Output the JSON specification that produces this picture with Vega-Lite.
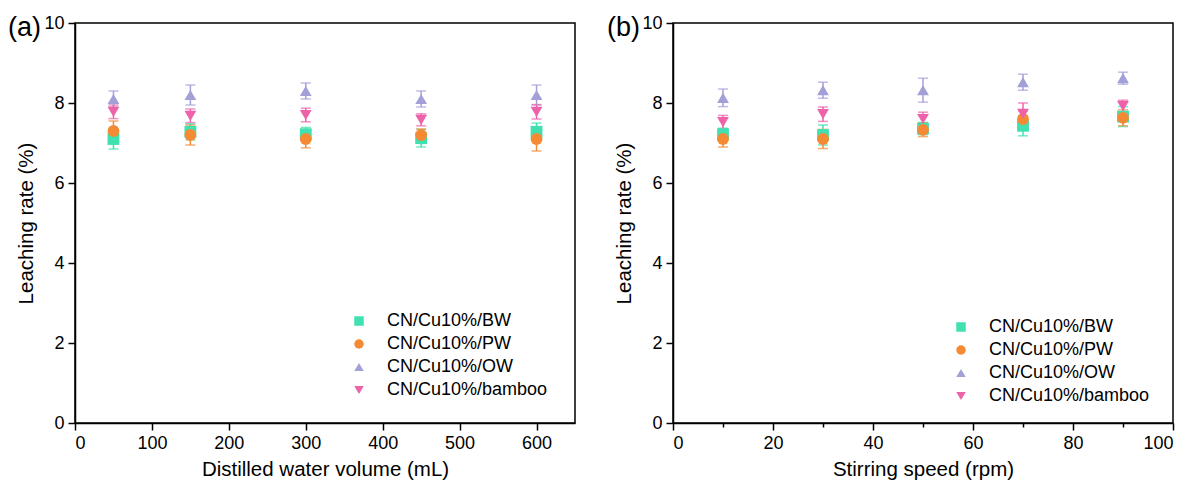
{
  "$schema": "https://vega.github.io/schema/vega-lite/v6.json",
  "background": "white",
  "padding": {"left": 7, "top": 13, "right": 20, "bottom": 5},
  "spacing": 98,
  "bounds": "flush",
  "config": {
    "font": "Liberation Sans",
    "view": {"stroke": "black", "strokeWidth": 1.5},
    "axis": {
      "grid": false,
      "domainColor": "black",
      "domainWidth": 1.5,
      "tickColor": "black",
      "tickWidth": 1.5,
      "labelFont": "Liberation Sans",
      "labelFontSize": 18,
      "labelColor": "black",
      "labelPadding": 4,
      "titleFont": "Liberation Sans",
      "titleFontSize": 20.5,
      "titleFontWeight": "normal",
      "titleColor": "black",
      "titlePadding": 7
    },
    "legend": {
      "labelFont": "Liberation Sans",
      "labelFontSize": 18,
      "labelColor": "black",
      "labelLimit": 400,
      "symbolSize": 90,
      "symbolOpacity": 1,
      "labelOffset": 19,
      "rowPadding": 5,
      "symbolStrokeWidth": 0
    },
    "title": {"font": "Liberation Sans", "fontSize": 27, "fontWeight": "normal", "color": "black"}
  },
  "datasets": {
    "leach": [
      {"panel": "a", "x": 50, "series": "CN/Cu10%/BW", "y": 7.1, "err": 0.25},
      {"panel": "a", "x": 50, "series": "CN/Cu10%/PW", "y": 7.3, "err": 0.25},
      {"panel": "a", "x": 50, "series": "CN/Cu10%/OW", "y": 8.1, "err": 0.2},
      {"panel": "a", "x": 50, "series": "CN/Cu10%/bamboo", "y": 7.78, "err": 0.17},
      {"panel": "a", "x": 150, "series": "CN/Cu10%/BW", "y": 7.28, "err": 0.2},
      {"panel": "a", "x": 150, "series": "CN/Cu10%/PW", "y": 7.2, "err": 0.25},
      {"panel": "a", "x": 150, "series": "CN/Cu10%/OW", "y": 8.2, "err": 0.25},
      {"panel": "a", "x": 150, "series": "CN/Cu10%/bamboo", "y": 7.68, "err": 0.17},
      {"panel": "a", "x": 300, "series": "CN/Cu10%/BW", "y": 7.22, "err": 0.17},
      {"panel": "a", "x": 300, "series": "CN/Cu10%/PW", "y": 7.1, "err": 0.22},
      {"panel": "a", "x": 300, "series": "CN/Cu10%/OW", "y": 8.3, "err": 0.2},
      {"panel": "a", "x": 300, "series": "CN/Cu10%/bamboo", "y": 7.7, "err": 0.17},
      {"panel": "a", "x": 450, "series": "CN/Cu10%/BW", "y": 7.12, "err": 0.22},
      {"panel": "a", "x": 450, "series": "CN/Cu10%/PW", "y": 7.2, "err": 0.15},
      {"panel": "a", "x": 450, "series": "CN/Cu10%/OW", "y": 8.1, "err": 0.2},
      {"panel": "a", "x": 450, "series": "CN/Cu10%/bamboo", "y": 7.58, "err": 0.15},
      {"panel": "a", "x": 600, "series": "CN/Cu10%/BW", "y": 7.28, "err": 0.22},
      {"panel": "a", "x": 600, "series": "CN/Cu10%/PW", "y": 7.1, "err": 0.3},
      {"panel": "a", "x": 600, "series": "CN/Cu10%/OW", "y": 8.2, "err": 0.25},
      {"panel": "a", "x": 600, "series": "CN/Cu10%/bamboo", "y": 7.78, "err": 0.18},
      {"panel": "b", "x": 10, "series": "CN/Cu10%/BW", "y": 7.22, "err": 0.15},
      {"panel": "b", "x": 10, "series": "CN/Cu10%/PW", "y": 7.1, "err": 0.2},
      {"panel": "b", "x": 10, "series": "CN/Cu10%/OW", "y": 8.13, "err": 0.22},
      {"panel": "b", "x": 10, "series": "CN/Cu10%/bamboo", "y": 7.52, "err": 0.17},
      {"panel": "b", "x": 30, "series": "CN/Cu10%/BW", "y": 7.2, "err": 0.25},
      {"panel": "b", "x": 30, "series": "CN/Cu10%/PW", "y": 7.1, "err": 0.24},
      {"panel": "b", "x": 30, "series": "CN/Cu10%/OW", "y": 8.32, "err": 0.2},
      {"panel": "b", "x": 30, "series": "CN/Cu10%/bamboo", "y": 7.72, "err": 0.18},
      {"panel": "b", "x": 50, "series": "CN/Cu10%/BW", "y": 7.36, "err": 0.15},
      {"panel": "b", "x": 50, "series": "CN/Cu10%/PW", "y": 7.33, "err": 0.17},
      {"panel": "b", "x": 50, "series": "CN/Cu10%/OW", "y": 8.32, "err": 0.3},
      {"panel": "b", "x": 50, "series": "CN/Cu10%/bamboo", "y": 7.6, "err": 0.17},
      {"panel": "b", "x": 70, "series": "CN/Cu10%/BW", "y": 7.43, "err": 0.25},
      {"panel": "b", "x": 70, "series": "CN/Cu10%/PW", "y": 7.6, "err": 0.2},
      {"panel": "b", "x": 70, "series": "CN/Cu10%/OW", "y": 8.52, "err": 0.2},
      {"panel": "b", "x": 70, "series": "CN/Cu10%/bamboo", "y": 7.73, "err": 0.27},
      {"panel": "b", "x": 90, "series": "CN/Cu10%/BW", "y": 7.66, "err": 0.25},
      {"panel": "b", "x": 90, "series": "CN/Cu10%/PW", "y": 7.63, "err": 0.2},
      {"panel": "b", "x": 90, "series": "CN/Cu10%/OW", "y": 8.62, "err": 0.15},
      {"panel": "b", "x": 90, "series": "CN/Cu10%/bamboo", "y": 7.92, "err": 0.15}
    ]
  },
  "resolve": {"scale": {"x": "independent"}, "legend": {"color": "independent", "shape": "independent"}},
  "hconcat": [
    {
      "width": 500,
      "height": 400,
      "title": {"text": "(a)", "anchor": "start", "frame": "group", "orient": "top", "offset": 0, "baseline": "alphabetic", "dx": -67, "dy": 49},
      "data": {"name": "leach"},
      "transform": [{"filter": "datum.panel === 'a'"}],
      "layer": [
        {
          "mark": {"type": "errorbar", "ticks": {"size": 10, "thickness": 1.5}, "thickness": 1.5},
          "encoding": {
            "x": {"field": "x", "type": "quantitative", "title": "Distilled water volume (mL)"},
            "y": {"field": "y", "type": "quantitative", "title": "Leaching rate (%)"},
            "yError": {"field": "err"},
            "color": {"field": "series", "type": "nominal", "title": null,
              "scale": {"domain": ["CN/Cu10%/BW", "CN/Cu10%/PW", "CN/Cu10%/OW", "CN/Cu10%/bamboo"], "range": ["#40E0B0", "#F58A35", "#A3A0D8", "#EE62AA"]},
              "legend": {"orient": "none", "legendX": 275, "legendY": 289}}
          }
        },
        {
          "mark": {"type": "point", "filled": true, "opacity": 1, "size": 140},
          "encoding": {
            "x": {"field": "x", "type": "quantitative",
              "scale": {"domain": [0, 650], "nice": false},
              "axis": {"title": "Distilled water volume (mL)", "values": [0, 50, 100, 150, 200, 250, 300, 350, 400, 450, 500, 550, 600, 650],
                "labelExpr": "datum.value % 100 === 0 ? datum.label : ''",
                "tickSize": {"condition": {"test": "datum.value % 100 === 0", "value": 7}, "value": 4}}},
            "y": {"field": "y", "type": "quantitative",
              "scale": {"domain": [0, 10], "nice": false},
              "axis": {"title": "Leaching rate (%)", "values": [0, 1, 2, 3, 4, 5, 6, 7, 8, 9, 10],
                "labelExpr": "datum.value % 2 === 0 ? datum.label : ''",
                "tickSize": {"condition": {"test": "datum.value % 2 === 0", "value": 7}, "value": 4}}},
            "color": {"field": "series", "type": "nominal", "title": null,
              "scale": {"domain": ["CN/Cu10%/BW", "CN/Cu10%/PW", "CN/Cu10%/OW", "CN/Cu10%/bamboo"], "range": ["#40E0B0", "#F58A35", "#A3A0D8", "#EE62AA"]},
              "legend": {"orient": "none", "legendX": 275, "legendY": 289}},
            "shape": {"field": "series", "type": "nominal", "title": null,
              "scale": {"domain": ["CN/Cu10%/BW", "CN/Cu10%/PW", "CN/Cu10%/OW", "CN/Cu10%/bamboo"], "range": ["square", "circle", "triangle-up", "triangle-down"]},
              "legend": {"orient": "none", "legendX": 275, "legendY": 289}}
          }
        }
      ]
    },
    {
      "width": 500,
      "height": 400,
      "title": {"text": "(b)", "anchor": "start", "frame": "group", "orient": "top", "offset": 0, "baseline": "alphabetic", "dx": -66, "dy": 49},
      "data": {"name": "leach"},
      "transform": [{"filter": "datum.panel === 'b'"}],
      "layer": [
        {
          "mark": {"type": "errorbar", "ticks": {"size": 10, "thickness": 1.5}, "thickness": 1.5},
          "encoding": {
            "x": {"field": "x", "type": "quantitative", "title": "Stirring speed (rpm)"},
            "y": {"field": "y", "type": "quantitative", "title": "Leaching rate (%)"},
            "yError": {"field": "err"},
            "color": {"field": "series", "type": "nominal", "title": null,
              "scale": {"domain": ["CN/Cu10%/BW", "CN/Cu10%/PW", "CN/Cu10%/OW", "CN/Cu10%/bamboo"], "range": ["#40E0B0", "#F58A35", "#A3A0D8", "#EE62AA"]},
              "legend": {"orient": "none", "legendX": 279, "legendY": 295}}
          }
        },
        {
          "mark": {"type": "point", "filled": true, "opacity": 1, "size": 140},
          "encoding": {
            "x": {"field": "x", "type": "quantitative",
              "scale": {"domain": [0, 100], "nice": false},
              "axis": {"title": "Stirring speed (rpm)", "values": [0, 10, 20, 30, 40, 50, 60, 70, 80, 90, 100],
                "labelExpr": "datum.value % 20 === 0 ? datum.label : ''",
                "tickSize": {"condition": {"test": "datum.value % 20 === 0", "value": 7}, "value": 4}}},
            "y": {"field": "y", "type": "quantitative",
              "scale": {"domain": [0, 10], "nice": false},
              "axis": {"title": "Leaching rate (%)", "values": [0, 1, 2, 3, 4, 5, 6, 7, 8, 9, 10],
                "labelExpr": "datum.value % 2 === 0 ? datum.label : ''",
                "tickSize": {"condition": {"test": "datum.value % 2 === 0", "value": 7}, "value": 4}}},
            "color": {"field": "series", "type": "nominal", "title": null,
              "scale": {"domain": ["CN/Cu10%/BW", "CN/Cu10%/PW", "CN/Cu10%/OW", "CN/Cu10%/bamboo"], "range": ["#40E0B0", "#F58A35", "#A3A0D8", "#EE62AA"]},
              "legend": {"orient": "none", "legendX": 279, "legendY": 295}},
            "shape": {"field": "series", "type": "nominal", "title": null,
              "scale": {"domain": ["CN/Cu10%/BW", "CN/Cu10%/PW", "CN/Cu10%/OW", "CN/Cu10%/bamboo"], "range": ["square", "circle", "triangle-up", "triangle-down"]},
              "legend": {"orient": "none", "legendX": 279, "legendY": 295}}
          }
        }
      ]
    }
  ]
}
